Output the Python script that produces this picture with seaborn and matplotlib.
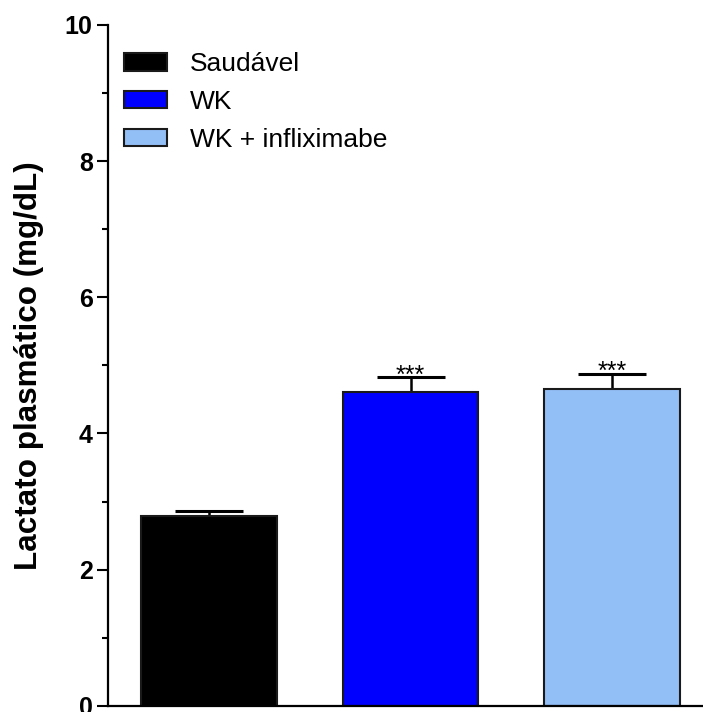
import matplotlib
matplotlib.use("Agg")
import matplotlib.pyplot as plt
import seaborn as sns
import pandas as pd

groups = ["Saudável", "WK", "WK + infliximabe"]
means = [2.79, 4.61, 4.66]
sems = [0.07, 0.22, 0.22]
signif = ["", "***", "***"]
colors = ["#000000", "#0000FF", "#93BFF7"]

sns.set_theme(style="ticks")
plt.rcParams["font.family"] = ["Liberation Sans", "DejaVu Sans"]
plt.rcParams["text.color"] = "black"
plt.rcParams["axes.labelcolor"] = "black"
plt.rcParams["ytick.color"] = "black"
plt.rcParams["axes.edgecolor"] = "black"

df = pd.DataFrame({"grupo": groups, "lactato": means})

fig = plt.figure(figsize=(7.03, 7.12), dpi=100)
ax = fig.add_axes([0.1536, 0.0088, 0.8464, 0.9561])

sns.barplot(data=df, x="grupo", y="lactato", hue="grupo", palette=colors,
            saturation=1, width=0.673, edgecolor="#1a1a1a", linewidth=1.5,
            errorbar=None, legend=True, ax=ax, zorder=2)

# SEM whiskers drawn behind the bars so only the upper half shows
xpos = list(range(len(groups)))
ax.errorbar(xpos, means, yerr=sems, fmt="none", ecolor="black",
            elinewidth=1.8, capsize=24.5, capthick=2.2, zorder=1.5)

for x, m, s, t in zip(xpos, means, sems, signif):
    if t:
        ax.text(x, m + s - 0.08, t, ha="center", va="baseline", fontsize=18,
                color="black")

ax.set_xlim(-0.5, 2.45)
ax.set_ylim(0, 10)
ax.set_yticks([0, 2, 4, 6, 8, 10])
ax.set_yticks([1, 3, 5, 7, 9], minor=True)
ax.set_xticks([])
ax.set_xlabel("")
ax.set_ylabel("Lactato plasmático (mg/dL)", fontsize=22.6, fontweight="bold",
              labelpad=15)

for lab in ax.get_yticklabels():
    lab.set_fontweight("bold")
ax.tick_params(axis="y", which="major", length=8, width=1.5, labelsize=18,
               pad=3, colors="black")
ax.tick_params(axis="y", which="minor", length=4.3, width=1.5, colors="black")

sns.despine(ax=ax, top=True, right=True)
ax.spines["left"].set_linewidth(1.6)
ax.spines["bottom"].set_linewidth(1.6)

handles, labels = ax.get_legend_handles_labels()
ax.legend(handles, labels, loc="upper left", bbox_to_anchor=(0.027, 0.96),
          frameon=False, fontsize=19, handlelength=1.63, handleheight=0.64,
          handletextpad=0.87, labelspacing=0.52, borderpad=0, borderaxespad=0)

fig.savefig("out.png", dpi=100)
